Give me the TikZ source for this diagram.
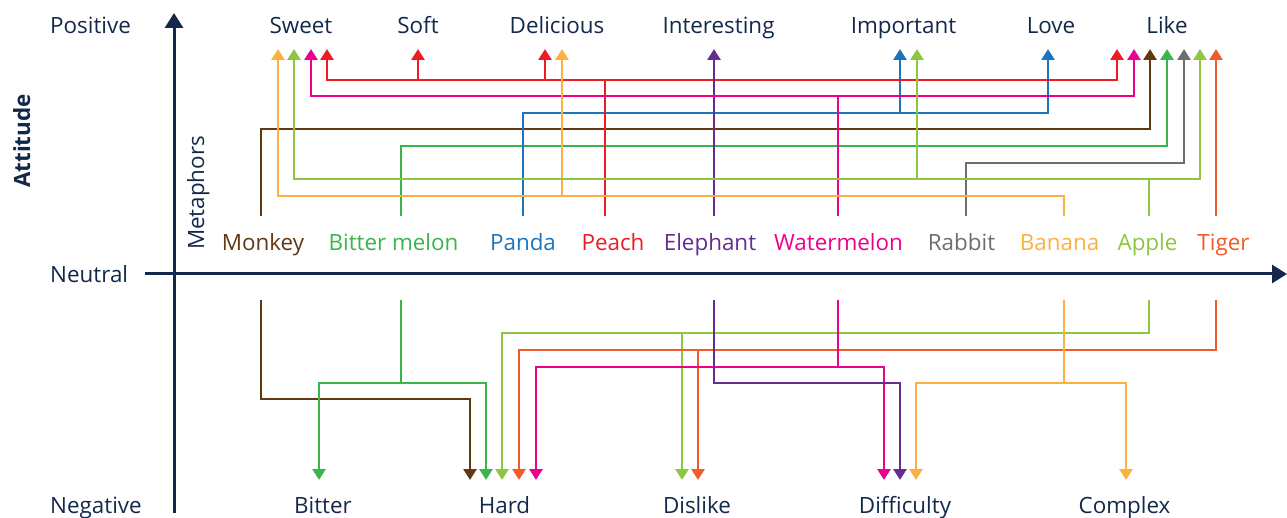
\documentclass[tikz,border=0pt]{standalone}
\usepackage{fontspec}
\setmainfont{Open Sans}
\usetikzlibrary{arrows.meta}
\definecolor{navy}{HTML}{13294B}
\definecolor{cMonkey}{HTML}{603913}
\definecolor{cBitter}{HTML}{39B54A}
\definecolor{cPanda}{HTML}{1C75BC}
\definecolor{cPeach}{HTML}{ED1C24}
\definecolor{cElephant}{HTML}{662D91}
\definecolor{cWater}{HTML}{EC008C}
\definecolor{cRabbit}{HTML}{6D6E71}
\definecolor{cBanana}{HTML}{FBB040}
\definecolor{cApple}{HTML}{8DC63F}
\definecolor{cTiger}{HTML}{F15A29}
\tikzset{
  lbl/.style={anchor=base, inner sep=0pt, font=\fontsize{22.4pt}{26pt}\selectfont},
  axislbl/.style={lbl, text=navy, anchor=base west},
  link/.style={line width=2.9pt, line join=miter},
  tip/.style={-{Triangle[length=11pt,width=13pt]}},
  axis/.style={draw=navy, line width=3pt, -{Triangle[length=15pt,width=18pt]}},
}
\begin{document}
\begin{tikzpicture}[x=1pt, y=-1pt]
\useasboundingbox (0,0) rectangle (1287,518);

% axes
\coordinate (vbot) at (174,513);
\coordinate (vtop) at (174,13);
\coordinate (hleft) at (145,274);
\coordinate (hright) at (1287,274);
\draw[axis] (vbot) -- (vtop);
\draw[axis] (hleft) -- (hright);

% axis labels
\node[axislbl] (pos) at (50,34) {Positive};
\node[axislbl] (neu) at (50,283) {Neutral};
\node[axislbl] (neg) at (50,513) {Negative};
\node[lbl, anchor=base, rotate=90, text=navy, font=\fontsize{22.4pt}{26pt}\selectfont\bfseries] (att) at (30,141) {Attitude};
\node[lbl, anchor=base, rotate=90, text=navy] (met) at (204,193) {Metaphors};

% attitude words
\node[lbl, text=navy] (sweet) at (301,34) {Sweet};
\node[lbl, text=navy] (soft) at (418,34) {Soft};
\node[lbl, text=navy] (delicious) at (557,34) {Delicious};
\node[lbl, text=navy] (interesting) at (718.5,34) {Interesting};
\node[lbl, text=navy] (important) at (903.5,34) {Important};
\node[lbl, text=navy] (love) at (1051,34) {Love};
\node[lbl, text=navy] (like) at (1167,34) {Like};
\node[lbl, text=navy] (bitter) at (323,513) {Bitter};
\node[lbl, text=navy] (hard) at (504.5,513) {Hard};
\node[lbl, text=navy] (dislike) at (697,513) {Dislike};
\node[lbl, text=navy] (difficulty) at (905,513) {Difficulty};
\node[lbl, text=navy] (complex) at (1124.5,513) {Complex};

% metaphors
\node[lbl, text=cMonkey] (monkey) at (263,251) {Monkey};
\node[lbl, text=cBitter] (bmelon) at (393.5,251) {Bitter melon};
\node[lbl, text=cPanda] (panda) at (523,251) {Panda};
\node[lbl, text=cPeach] (peach) at (613,251) {Peach};
\node[lbl, text=cElephant] (elephant) at (710,251) {Elephant};
\node[lbl, text=cWater] (water) at (838.5,251) {Watermelon};
\node[lbl, text=cRabbit] (rabbit) at (961.5,251) {Rabbit};
\node[lbl, text=cBanana] (banana) at (1059.5,251) {Banana};
\node[lbl, text=cApple] (apple) at (1147.5,251) {Apple};
\node[lbl, text=cTiger] (tiger) at (1223.5,251) {Tiger};

% ---- upward links (positive attitudes) ----
% Monkey -> Like
\draw[link, tip, cMonkey] (261,216) |- (1150,129) -- (1150,49);
% Bitter melon -> Like
\draw[link, tip, cBitter] (401,216) |- (1167,146) -- (1167,49);
% Panda -> Important, Love
\draw[link, tip, cPanda] (523,216) |- (1048,113) -- (1048,49);
\draw[link, tip, cPanda] (900,113) -- (900,49);
% Peach -> Sweet, Soft, Delicious, Like
\draw[link, tip, cPeach] (605,216) -- (605,80) -| (327,49);
\draw[link, tip, cPeach] (605,80) -| (1117,49);
\draw[link, tip, cPeach] (418,80) -- (418,49);
\draw[link, tip, cPeach] (545,80) -- (545,49);
% Elephant -> Interesting
\draw[link, tip, cElephant] (714,216) -- (714,49);
% Watermelon -> Sweet, Like
\draw[link, tip, cWater] (838,216) -- (838,96) -| (311,49);
\draw[link, tip, cWater] (838,96) -| (1134,49);
% Rabbit -> Like
\draw[link, tip, cRabbit] (966,216) |- (1184,163) -- (1184,49);
% Banana -> Sweet, Delicious
\draw[link, tip, cBanana] (1064,216) |- (278,196) -- (278,49);
\draw[link, tip, cBanana] (562,196) -- (562,49);
% Apple -> Sweet, Important, Like
\draw[link, tip, cApple] (1149,216) -- (1149,179) -| (294,49);
\draw[link, tip, cApple] (1149,179) -| (1200,49);
\draw[link, tip, cApple] (917,179) -- (917,49);
% Tiger -> Like
\draw[link, tip, cTiger] (1216,216) -- (1216,49);

% ---- downward links (negative attitudes) ----
% Monkey -> Hard
\draw[link, tip, cMonkey] (261,300) |- (470,399) -- (470,480);
% Bitter melon -> Bitter, Hard
\draw[link, tip, cBitter] (401,300) -- (401,383) -| (319,480);
\draw[link, tip, cBitter] (401,383) -| (486,480);
% Apple -> Hard, Dislike
\draw[link, tip, cApple] (1149,300) |- (502,333) -- (502,480);
\draw[link, tip, cApple] (682,333) -- (682,480);
% Tiger -> Hard, Dislike
\draw[link, tip, cTiger] (1216,300) |- (519,350) -- (519,480);
\draw[link, tip, cTiger] (698,350) -- (698,480);
% Watermelon -> Hard, Difficulty
\draw[link, tip, cWater] (838,300) -- (838,367) -| (536,480);
\draw[link, tip, cWater] (838,367) -| (884,480);
% Elephant -> Difficulty
\draw[link, tip, cElephant] (714,300) |- (900,383) -- (900,480);
% Banana -> Difficulty, Complex
\draw[link, tip, cBanana] (1064,300) -- (1064,383) -| (916,480);
\draw[link, tip, cBanana] (1064,383) -| (1126,480);
\end{tikzpicture}
\end{document}
